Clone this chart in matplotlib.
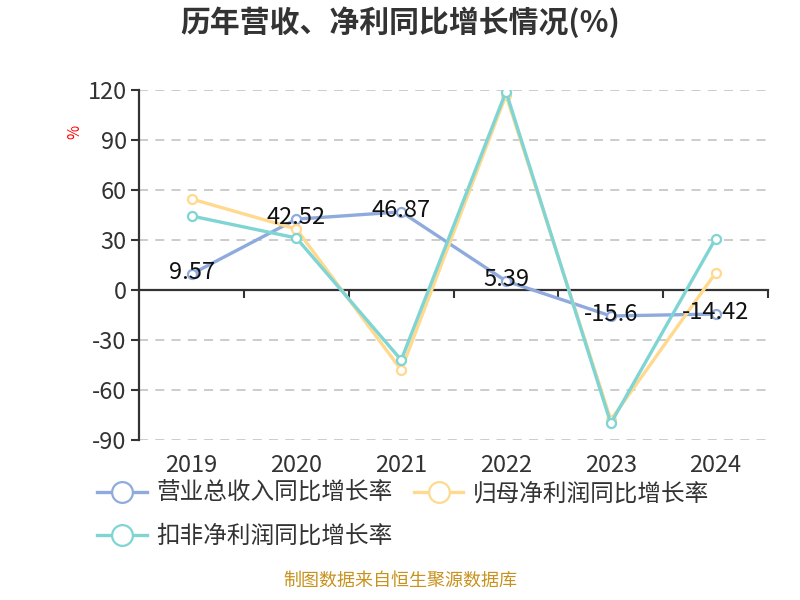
import matplotlib.pyplot as plt
from matplotlib.ticker import FixedLocator, NullFormatter

plt.rcParams['font.family'] = ['Noto Sans CJK SC', 'DejaVu Sans']
plt.rcParams['axes.unicode_minus'] = False

years = ["2019", "2020", "2021", "2022", "2023", "2024"]
revenue = [9.57, 42.52, 46.87, 5.39, -15.6, -14.42]
net_profit = [54.6, 36.6, -48.0, 117.0, -78.0, 10.2]
deducted = [44.4, 31.2, -42.0, 119.0, -80.0, 30.8]

names = ["营业总收入同比增长率", "归母净利润同比增长率", "扣非净利润同比增长率"]
colors = ["#8FAADC", "#FFD98E", "#7FD4D4"]
yticks = [-90, -60, -30, 0, 30, 60, 90, 120]

fig = plt.figure(figsize=(8, 6), dpi=100)
ax = fig.add_axes([0.174, 0.2667, 0.786, 0.5833])

x = list(range(len(years)))
lines = []
for series, name, c in zip([revenue, net_profit, deducted], names, colors):
    ln, = ax.plot(x, series, color=c, lw=2.4, marker="o", ms=6.5,
                  mfc="white", mec=c, mew=1.6, label=name, zorder=3)
    lines.append(ln)

for xi, v in zip(x, revenue):
    ax.text(xi, v + 1, f"{v:g}", ha="center", va="center",
            fontsize=17, color="#111111", zorder=5)

ax.set_xlim(-0.5, len(years) - 0.5)
ax.set_ylim(-90, 120)
ax.set_yticks(yticks)
ax.tick_params(axis="y", labelsize=17, labelcolor="#333333", length=6,
               width=1.5, color="#333333", pad=3)
for y in yticks:
    if y != 0:
        ax.axhline(y, color="#c8c8c8", lw=1.3, ls=(0, (5, 4)), zorder=1)

for s in ["top", "right"]:
    ax.spines[s].set_visible(False)
ax.spines["left"].set_color("#333333")
ax.spines["left"].set_linewidth(1.6)
ax.spines["bottom"].set_position(("data", 0))
ax.spines["bottom"].set_color("#333333")
ax.spines["bottom"].set_linewidth(1.6)
ax.xaxis.set_major_locator(FixedLocator([i + 0.5 for i in x]))
ax.xaxis.set_major_formatter(NullFormatter())
ax.tick_params(axis="x", length=6, width=1.5, color="#333333")

sec = ax.secondary_xaxis(location=0)
sec.set_xticks(x)
sec.set_xticklabels(years)
sec.tick_params(length=0, labelsize=17, labelcolor="#333333", pad=10)
sec.spines["bottom"].set_visible(False)

ax.text(-0.102, 0.88, "%", transform=ax.transAxes, rotation=90,
        color="red", fontsize=11, ha="center", va="center")

fig.suptitle("历年营收、净利同比增长情况(%)", x=0.5, y=0.99,
             fontsize=21.5, fontweight="bold", color="#333333")

# order so that columns fill row by row like the reference
handles = [lines[0], lines[2], lines[1]]
labels = [names[0], names[2], names[1]]
leg = fig.legend(handles, labels, loc="upper left",
                 bbox_to_anchor=(0.095, 0.232), ncol=2,
                 frameon=False, fontsize=17, handlelength=2.1,
                 handletextpad=0.4, columnspacing=0.9, labelspacing=0.85,
                 markerscale=2.3)
for t in leg.get_texts():
    t.set_color("#333333")

fig.text(0.5, 0.017, "制图数据来自恒生聚源数据库", ha="center",
         va="bottom", fontsize=13, color="#C8921E")

fig.savefig("out.png", dpi=100)
